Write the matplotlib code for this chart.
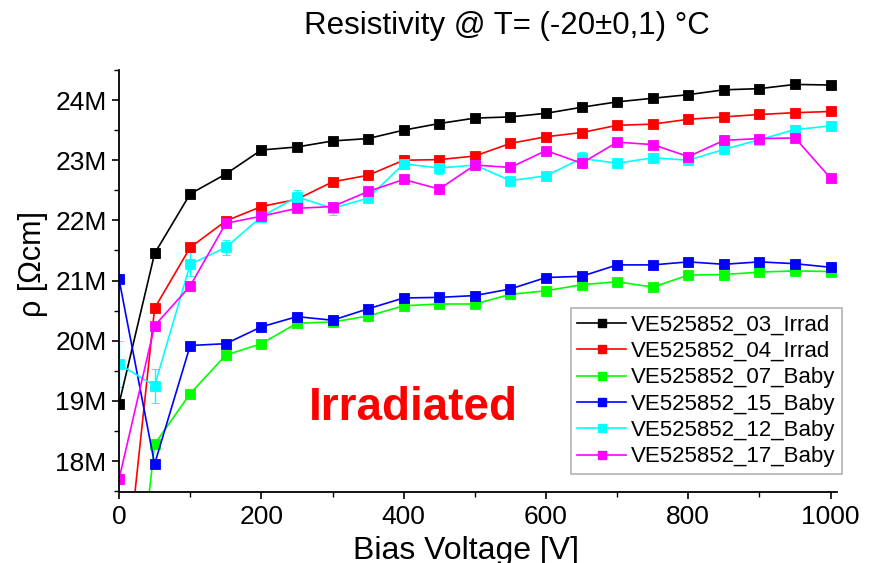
import numpy as np
import matplotlib.pyplot as plt
from matplotlib.lines import Line2D
from matplotlib.ticker import MultipleLocator, FuncFormatter

plt.rcParams['font.family'] = ['Liberation Sans', 'DejaVu Sans']

# Bias voltage steps [V]
voltage = [0, 50, 100, 150, 200, 250, 300, 350, 400, 450, 500,
           550, 600, 650, 700, 750, 800, 850, 900, 950, 1000]

# Resistivity values in MOhm cm
rho_03 = [18.95, 21.45, 22.44, 22.77, 23.17, 23.22, 23.32, 23.36, 23.50, 23.61, 23.70,
          23.72, 23.78, 23.88, 23.97, 24.03, 24.09, 24.17, 24.19, 24.26, 24.25]
rho_04 = [15.00, 20.54, 21.55, 21.99, 22.23, 22.35, 22.64, 22.75, 23.00, 23.01, 23.07,
          23.28, 23.39, 23.46, 23.58, 23.60, 23.68, 23.72, 23.76, 23.79, 23.81]
rho_07 = [12.90, 18.28, 19.12, 19.76, 19.95, 20.29, 20.31, 20.41, 20.58, 20.61, 20.61,
          20.77, 20.83, 20.93, 20.98, 20.89, 21.09, 21.10, 21.14, 21.16, 21.15]
rho_15 = [21.02, 17.95, 19.92, 19.95, 20.23, 20.40, 20.34, 20.53, 20.71, 20.72, 20.75,
          20.86, 21.05, 21.07, 21.26, 21.26, 21.31, 21.27, 21.31, 21.28, 21.22]
rho_12 = [19.61, 19.25, 21.27, 21.55, 22.06, 22.39, 22.20, 22.37, 22.94, 22.87, 22.92,
          22.66, 22.74, 23.03, 22.95, 23.04, 23.00, 23.18, 23.34, 23.51, 23.57]
rho_17 = [17.70, 20.25, 20.91, 21.95, 22.07, 22.20, 22.23, 22.48, 22.68, 22.52, 22.92,
          22.88, 23.16, 22.95, 23.30, 23.26, 23.06, 23.33, 23.36, 23.37, 22.70]

# Error bars (only visible ones)
err_03 = [0.04, 0.08, 0.05, 0.04, 0.04, 0.04, 0.04, 0.04, 0.04, 0.04, 0.04,
          0.04, 0.04, 0.04, 0.04, 0.04, 0.04, 0.04, 0.04, 0.04, 0.04]
err_04 = [0.05, 0.05, 0.05, 0.05, 0.05, 0.07, 0.05, 0.05, 0.08, 0.05, 0.05,
          0.05, 0.05, 0.05, 0.05, 0.05, 0.05, 0.05, 0.05, 0.05, 0.05]
err_12 = [0.38, 0.28, 0.20, 0.12, 0.08, 0.12, 0.11, 0.06, 0.08, 0.10, 0.05,
          0.05, 0.05, 0.10, 0.05, 0.05, 0.05, 0.06, 0.05, 0.07, 0.08]

labels = ['VE525852_03_Irrad', 'VE525852_04_Irrad', 'VE525852_07_Baby',
          'VE525852_15_Baby', 'VE525852_12_Baby', 'VE525852_17_Baby']
series = [rho_03, rho_04, rho_07, rho_15, rho_12, rho_17]
errors = [err_03, err_04, None, None, err_12, None]
colors = ['#000000', '#ff0000', '#00ff00', '#0000ff', '#00ffff', '#ff00ff']

# Creating the figure and axis
fig = plt.figure(figsize=(8.74, 5.63), dpi=100)
ax = fig.add_axes([0.1362, 0.1256, 0.8215, 0.7501])

# Plotting every series
handles = []
for vals, err, col, lab in zip(series, errors, colors, labels):
    ax.errorbar(voltage, vals, yerr=err, color=col, linewidth=1.2,
                marker='s', markersize=7, markeredgecolor=col, markeredgewidth=0.6,
                ecolor=col, elinewidth=1.0, capsize=3)
    handles.append(Line2D([], [], color=col, linewidth=1.2, marker='s',
                          markersize=6, markeredgecolor=col, label=lab))

# Limits and ticks
ax.set_xlim(0, 1009)
ax.set_ylim(17.48, 24.5)
ax.xaxis.set_major_locator(MultipleLocator(200))
ax.xaxis.set_minor_locator(MultipleLocator(100))
ax.yaxis.set_major_locator(MultipleLocator(1))
ax.yaxis.set_minor_locator(MultipleLocator(0.5))
ax.yaxis.set_major_formatter(FuncFormatter(lambda v, p: '%dM' % round(v)))
ax.tick_params(which='major', direction='out', length=5, width=1.2, labelsize=19, pad=4)
ax.tick_params(which='minor', direction='out', length=3.5, width=1.0)

for side in ['top', 'right']:
    ax.spines[side].set_visible(False)
for side in ['left', 'bottom']:
    ax.spines[side].set_linewidth(1.3)

# Annotation
ax.text(414, 18.88, 'Irradiated', color='#ff0000', fontsize=33, fontweight='bold',
        ha='center', va='center')

# Legend
leg = ax.legend(handles=handles, loc='upper left', bbox_to_anchor=(0.629, 0.436),
                fontsize=16, frameon=True, fancybox=False, edgecolor='#a0a0a0',
                handlelength=2.2, handletextpad=0.2, labelspacing=0.24, borderpad=0.3,
                borderaxespad=0)
leg.get_frame().set_linewidth(1.2)

# Titles and labels
fig.text(0.5795, 0.954, 'Resistivity @ T= (-20\u00b10,1) \u00b0C', fontsize=22.5,
         ha='center', va='center')
fig.text(0.5337, 0.007, 'Bias Voltage [V]', fontsize=23, ha='center', va='baseline')
fig.text(0.038, 0.531, '\u03c1 [\u03a9cm]', fontsize=22, ha='center', va='center',
         rotation=90)

plt.savefig('out.png', dpi=100)
plt.close()
